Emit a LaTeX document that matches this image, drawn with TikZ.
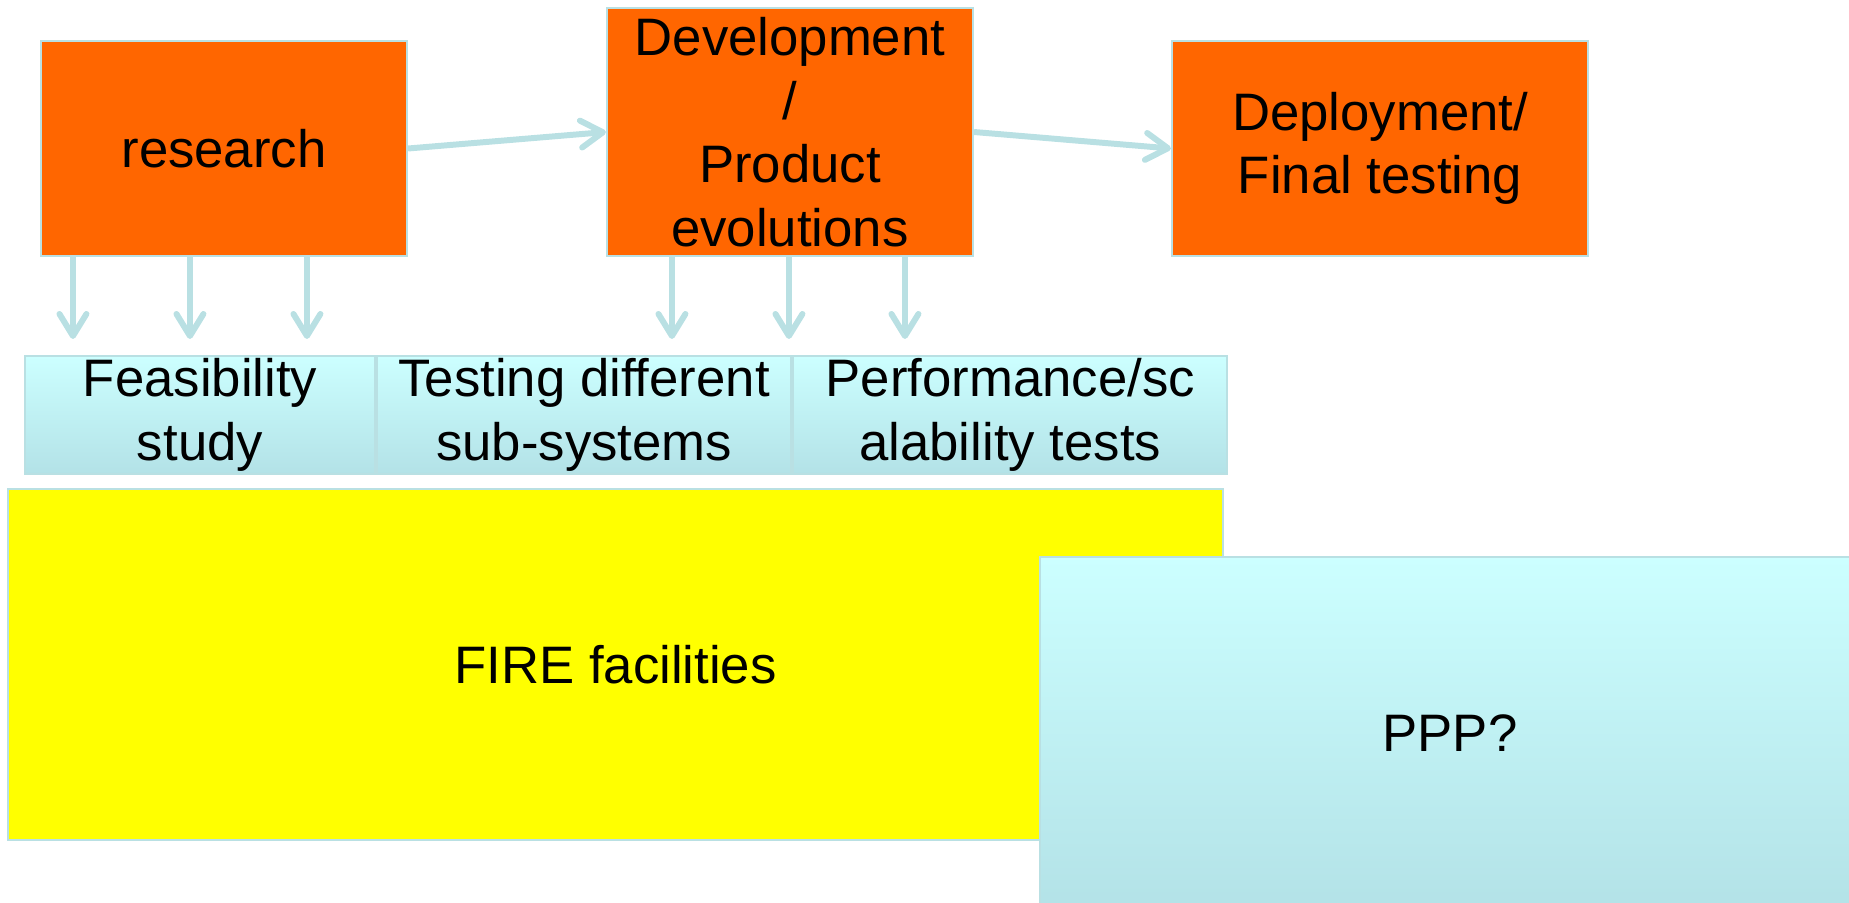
\documentclass[tikz,border=0pt]{standalone}
\usepackage{fontspec}
\setmainfont{Liberation Sans}
\usepackage{tikz}
\usetikzlibrary{positioning,arrows.meta,calc}
\definecolor{orangevif}{HTML}{FF6600}
\definecolor{jaune}{RGB}{255,255,0}
\definecolor{bordure}{HTML}{B9E0E3}
\definecolor{cielhaut}{HTML}{CCFFFF}
\definecolor{cielbas}{HTML}{B3E2E7}
\tikzset{
	texte/.style={font=\fontsize{15}{18.1}\selectfont,align=center,inner sep=0pt},
	boite/.style={texte,rectangle,draw=bordure,line width=0.6pt,fill=orangevif},
	bande/.style={texte,rectangle,draw=bordure,line width=0.6pt,top color=cielhaut,bottom color=cielbas},
	fleche/.style={draw=bordure,line width=1.7pt,-{Straight Barb[length=2.2mm,width=2.7mm,round]}}
}

\begin{document}
\begin{tikzpicture}
	\useasboundingbox (0,0) rectangle (18.49,-9.03);
	\clip (0,0) rectangle (18.49,-9.03); % la boite PPP deborde a droite

	%Etapes
	\node[boite,minimum width=3.66cm,minimum height=2.15cm] (research) at (2.24,-1.485) {research};
	\node[boite,minimum width=3.66cm,minimum height=2.48cm] (dev) at (7.90,-1.32) {Development\\/\\Product\\evolutions};
	\node[boite,minimum width=4.16cm,minimum height=2.15cm] (deploy) at (13.80,-1.485) {Deployment/\\Final testing};

	%Bande des tests
	\node[bande,minimum width=3.50cm,minimum height=1.18cm] (feas) at (2.00,-4.15) {Feasibility\\study};
	\node[bande,minimum width=4.14cm,minimum height=1.18cm,right=0pt of feas] (tests) {Testing different\\sub-systems};
	\node[bande,minimum width=4.34cm,minimum height=1.18cm,right=0pt of tests] (perf) {Performance/sc\\alability tests};

	%Plateformes
	\node[texte,rectangle,draw=bordure,line width=0.6pt,fill=jaune,minimum width=12.15cm,minimum height=3.51cm] (fire) at (6.155,-6.645) {FIRE facilities};
	\node[bande,minimum width=8.20cm,minimum height=3.53cm] (ppp) at (14.50,-7.335) {PPP?};

	%Fleches horizontales
	\draw[fleche] (research.east) -- (dev.west);
	\draw[fleche] (dev.east) -- (deploy.west);

	%Fleches vers les tests
	\foreach \dx in {0.33,1.50,2.67}{
		\coordinate (a) at ($(research.south west)+(\dx,0)$);
		\draw[fleche,shorten >=0.16cm] (a) -- (a |- feas.north);
	}
	\foreach \dx in {0.66,1.83,2.99}{
		\coordinate (b) at ($(dev.south west)+(\dx,0)$);
		\draw[fleche,shorten >=0.16cm] (b) -- (b |- tests.north);
	}
\end{tikzpicture}
\end{document}
